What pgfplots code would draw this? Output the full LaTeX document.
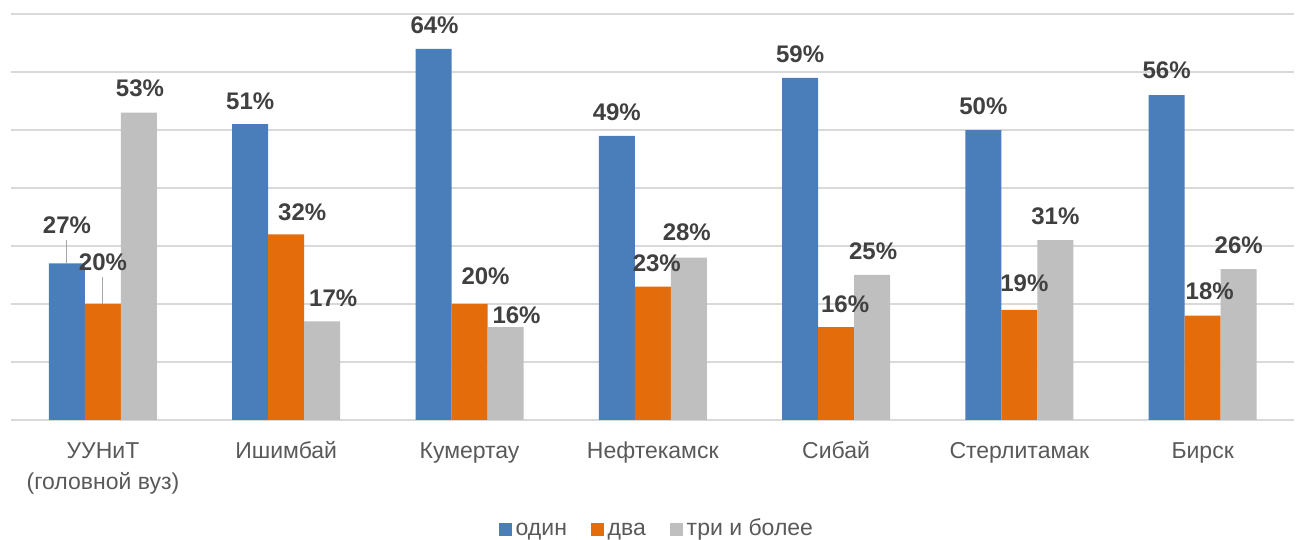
\documentclass[border=0pt]{standalone}
\usepackage{fontspec}
\setmainfont{Liberation Sans}
\usepackage{pgfplots}
\usepackage{pgfplotstable}
\pgfplotsset{compat=1.18}

\definecolor{cOne}{HTML}{4A7EBB}
\definecolor{cTwo}{HTML}{E46C0A}
\definecolor{cThree}{HTML}{BFBFBF}
\definecolor{cGrid}{HTML}{D9D9D9}
\definecolor{cLab}{HTML}{404040}
\definecolor{cTxt}{HTML}{595959}
\definecolor{cLead}{HTML}{A6A6A6}

% dx, dy: label offset in px; e: leader line length in %
\pgfplotstableread{
x y dx dy e
0 27 0 38 4.0
1 51 0 23 0
2 64 1 24 0
3 49 0 24 0
4 59 0 24 0
5 50 0 24 0
6 56 0 25 0
}\one
\pgfplotstableread{
x y dx dy e
0 20 0 42 4.7
1 32 16 22 0
2 20 16 28 0
3 23 4 23 0
4 16 9 23 0
5 19 5 27 0
6 18 7 24 0
}\two
\pgfplotstableread{
x y dx dy e
0 53 1 24 0
1 17 11 23 0
2 16 11 12 0
3 28 -2 25 0
4 25 1 24 0
5 31 0 24 0
6 26 0 24 0
}\three

\pgfplotsset{
  lbl/.style={
    visualization depends on={\thisrow{dx} \as \dx},
    visualization depends on={\thisrow{dy} \as \dy},
    nodes near coords={\pgfmathprintnumber{\pgfplotspointmeta}\%},
    every node near coord/.append style={anchor=center, xshift={\dx*0.5pt}, yshift={\dy*0.5pt},
      font=\fontsize{12}{14}\selectfont\bfseries, text=cLab},
    error bars/.cd, y dir=plus, y explicit, error mark=none,
      error bar style={draw=cLead, line width=0.5pt},
  },
}

\begin{document}
\begin{tikzpicture}
\useasboundingbox (0,0) rectangle (650pt,270pt);
\begin{axis}[
  at={(5.65pt,60pt)}, anchor=south west,
  scale only axis, width=641.5pt, height=203pt,
  ymin=0, ymax=70, xmin=-0.5, xmax=6.5,
  ytick={0,10,...,70}, yticklabels={},
  ymajorgrids, grid style={draw=cGrid, line width=0.6pt},
  axis line style={draw=none}, major tick length=0pt,
  xtick={0,...,6},
  xticklabels={{УУНиТ\\(головной вуз)},Ишимбай,Кумертау,Нефтекамск,Сибай,Стерлитамак,Бирск},
  typeset ticklabels with strut,
  xticklabel style={font=\fontsize{11.5}{15.5}\selectfont, text=cTxt, align=center, anchor=north, yshift=-5pt},
  /pgf/number format/assume math mode=true,
  ybar, bar width=18pt,
  point meta=y,
  legend style={at={(0.504,-0.27)}, anchor=center, draw=none, fill=none,
    legend columns=-1, font=\fontsize{11.5}{13}\selectfont, text=cTxt,
    nodes={text height=8.5pt, text depth=2.6pt},
    /tikz/every even column/.append style={column sep=10pt}},
]
\addlegendimage{legend image code/.code={\fill[cOne] (0pt,-3pt) rectangle (6pt,3pt);}}
\addlegendentry{один}
\addlegendimage{legend image code/.code={\fill[cTwo] (0pt,-3pt) rectangle (6pt,3pt);}}
\addlegendentry{два}
\addlegendimage{legend image code/.code={\fill[cThree] (0pt,-3pt) rectangle (6pt,3pt);}}
\addlegendentry{три и более}
\addplot[fill=cOne, draw=none, bar shift=-18pt, forget plot, lbl] table[x=x, y=y, y error=e] {\one};
\addplot[fill=cTwo, draw=none, bar shift=0pt, forget plot, lbl] table[x=x, y=y, y error=e] {\two};
\addplot[fill=cThree, draw=none, bar shift=18pt, forget plot, lbl] table[x=x, y=y, y error=e] {\three};
\end{axis}
\end{tikzpicture}
\end{document}
